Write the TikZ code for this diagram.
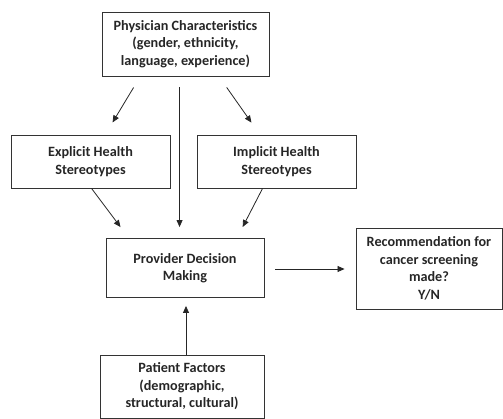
\documentclass[tikz,border=0pt]{standalone}
\usepackage{fontspec}
\setmainfont{Carlito}
\usetikzlibrary{calc,arrows.meta}
\begin{document}
\begin{tikzpicture}[x=1pt,y=-1pt,
  box/.style={draw=black!80,line width=0.9pt,rectangle,align=center,inner sep=0pt,
    font=\bfseries\fontsize{14.2}{17.5}\selectfont,text=black!85},
  arr/.style={draw=black!85,line width=0.8pt,-{Triangle[length=7pt,width=6pt]}}]
\useasboundingbox (0,0) rectangle (503,419);
\node[box,minimum width=167pt,minimum height=64pt] (phys) at (185.5,44) {Physician Characteristics\\(gender, ethnicity,\\language, experience)};
\node[box,minimum width=159pt,minimum height=53pt] (expl) at (90.5,161.5) {Explicit Health\\Stereotypes};
\node[box,minimum width=159pt,minimum height=53pt] (impl) at (276.5,161.5) {Implicit Health\\Stereotypes};
\node[box,minimum width=158pt,minimum height=59pt] (prov) at (185,268) {Provider Decision\\Making};
\node[box,minimum width=146pt,minimum height=81pt] (rec) at (429,268.5) {Recommendation for\\cancer screening\\made?\\Y/N};
\node[box,minimum width=164pt,minimum height=63pt] (pat) at (182,386.5) {Patient Factors\\(demographic,\\structural, cultural)};
\draw[arr,shorten <=12.9pt,shorten >=14.1pt] ($(phys.south west)+(38.7,0)$) -- ($(expl.north west)+(94.7,0)$);
\draw[arr,shorten <=13.4pt,shorten >=14.6pt] ($(phys.south west)+(117.4,0)$) -- ($(impl.north west)+(63.3,0)$);
\draw[arr,shorten <=11pt,shorten >=11pt] ($(phys.south west)+(78,0)$) -- ($(prov.north west)+(74,0)$);
\draw[arr,shorten >=13.7pt] ($(expl.south west)+(81,0)$) -- ($(prov.north west)+(23.2,0)$);
\draw[arr,shorten >=12.4pt] ($(impl.south west)+(66,0)$) -- ($(prov.north west)+(131.4,0)$);
\draw[arr,shorten <=11pt,shorten >=11pt] ($(prov.east)+(0,1)$) -- ($(rec.west)+(0,0.5)$);
\draw[arr,shorten >=8pt] ($(pat.north)+(4,0)$) -- ($(prov.south)+(1,0)$);
\end{tikzpicture}
\end{document}
